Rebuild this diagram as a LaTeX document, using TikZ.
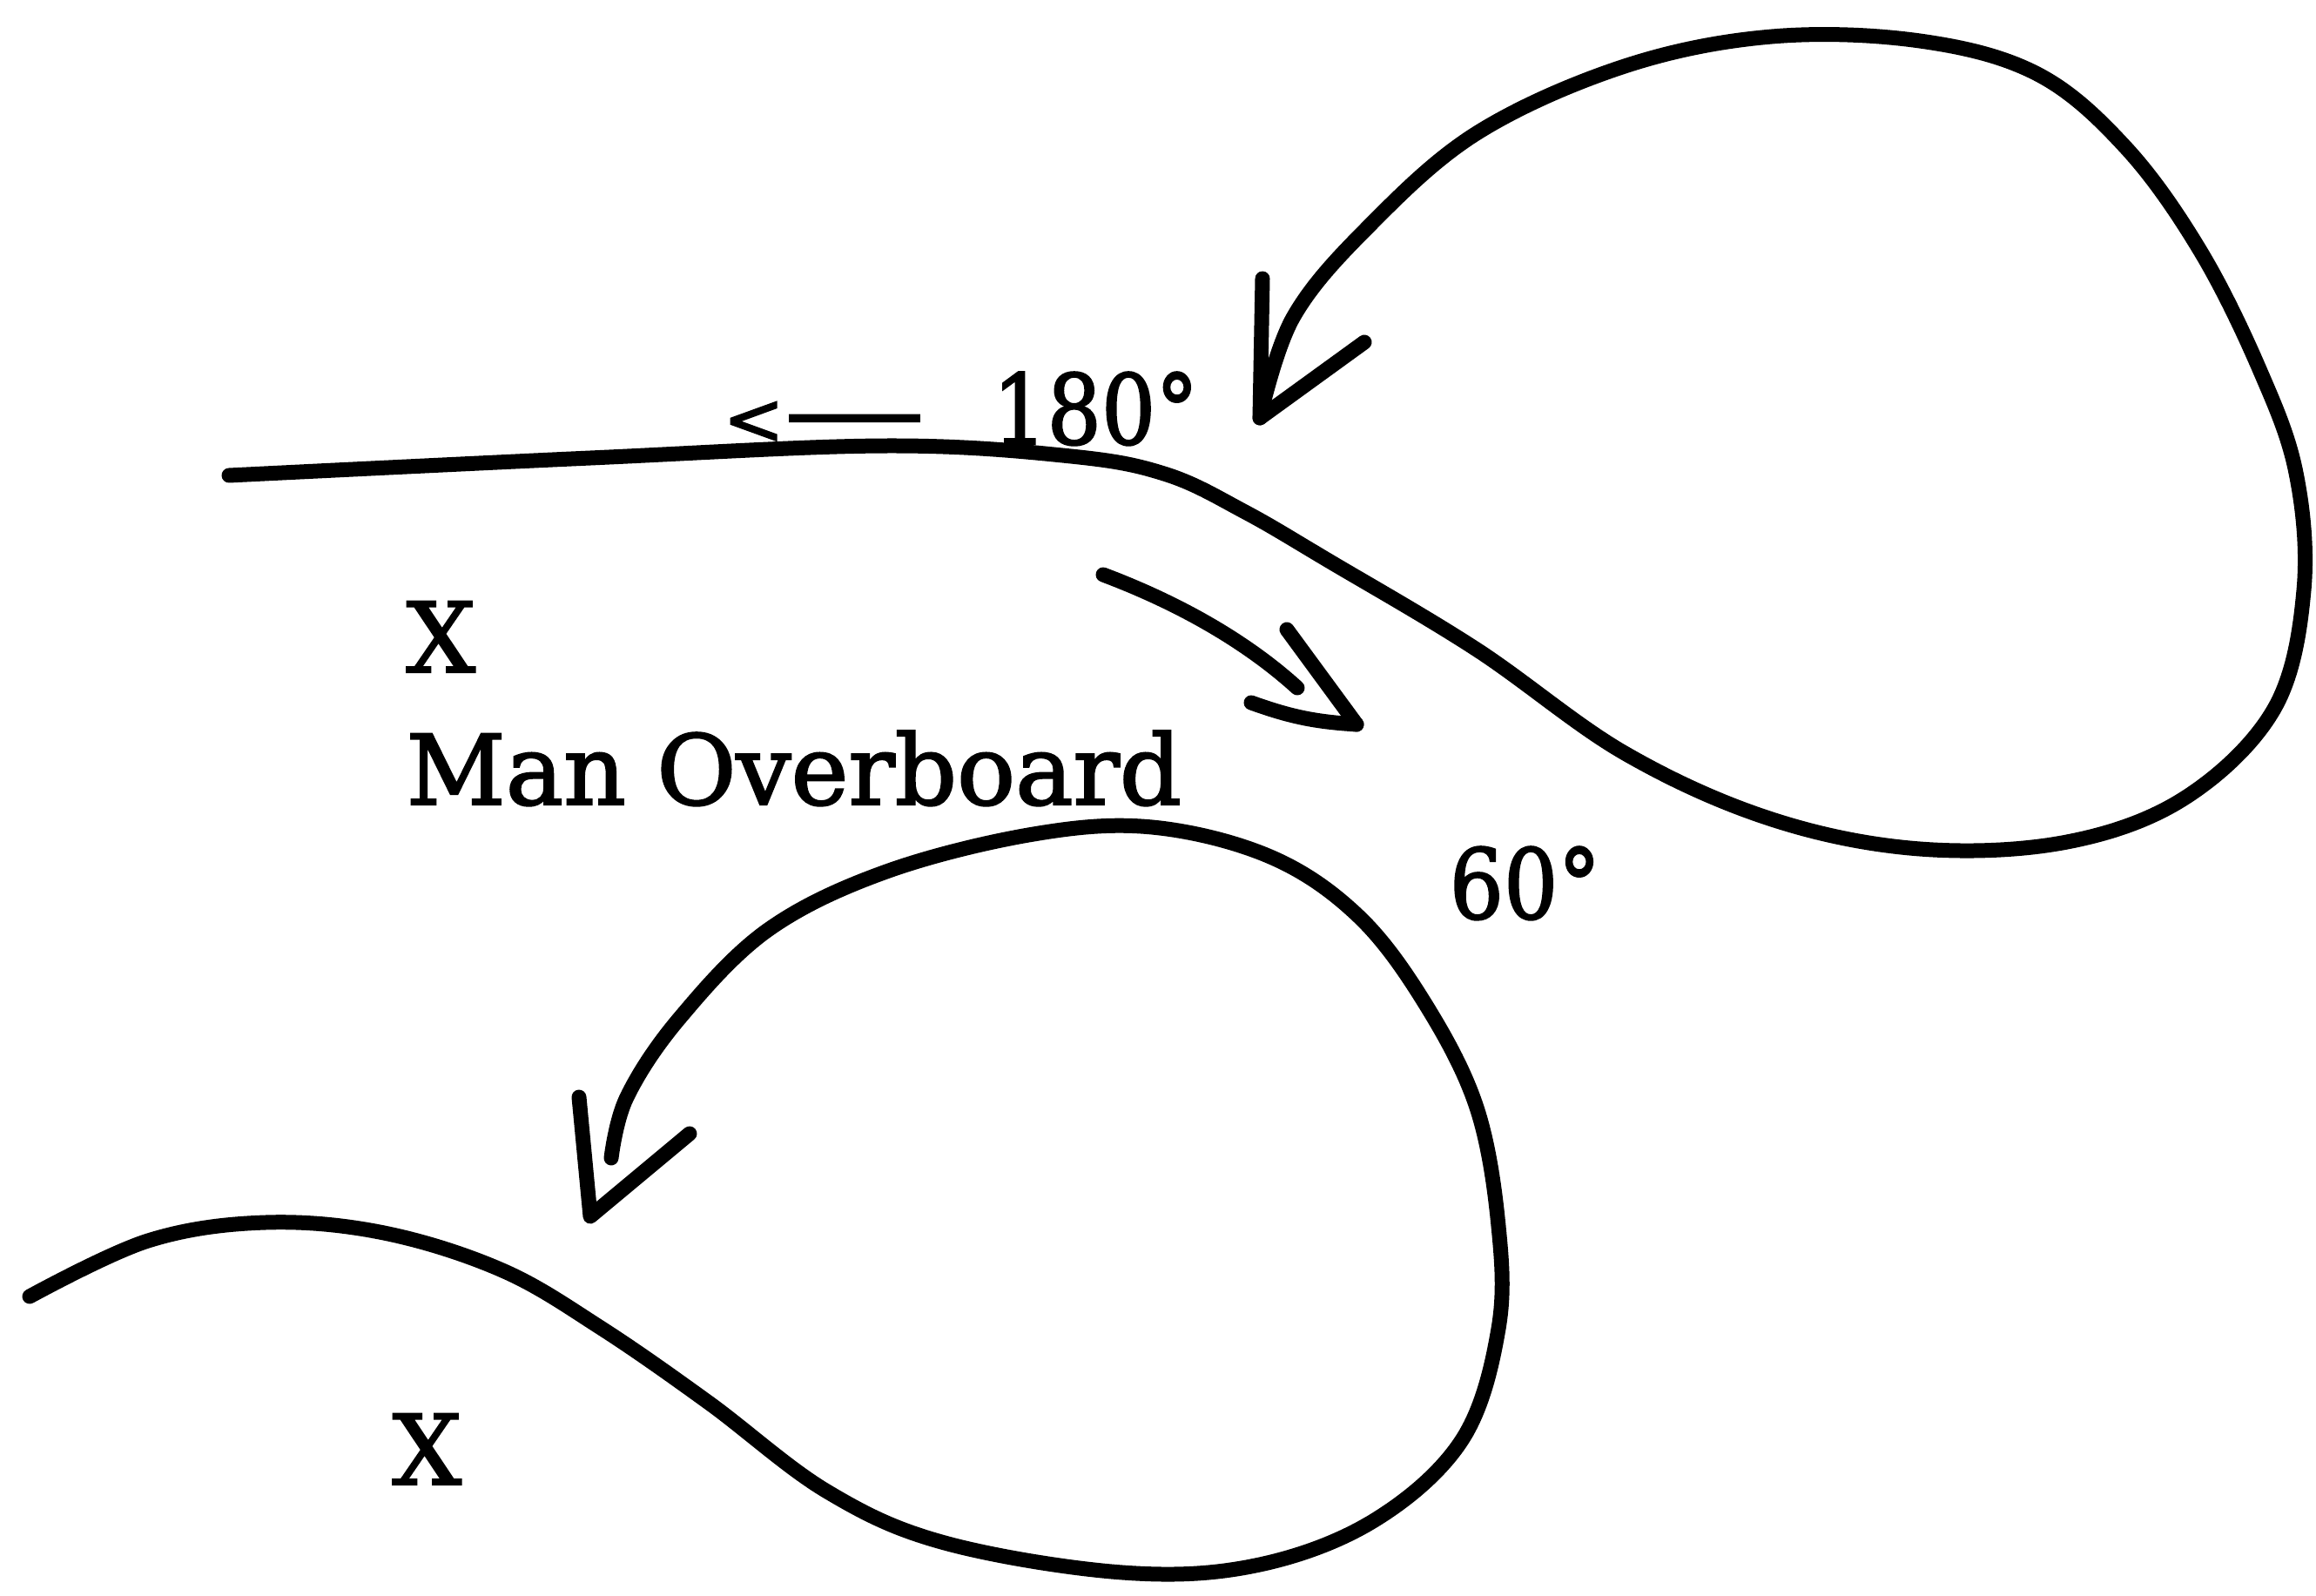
\documentclass[tikz,border=0pt]{standalone}
\usepackage{fontspec}
\setmainfont{DejaVu Serif}[FakeBold=2]
\tikzset{
  rumbo/.style={line width=1.7mm, line cap=round, line join=round},
  rotulo/.style={font=\fontsize{31.7}{38}\selectfont, inner sep=0pt, anchor=base west}
}
\newcommand{\grados}[1]{\scalebox{0.88}[1]{#1}}
\begin{document}
\begin{tikzpicture}
        \useasboundingbox (0,0) rectangle (26.6,-18.33);
        % Primera maniobra: giro de 180 grados
        \draw[rumbo] plot[smooth, tension=0.6] coordinates {(2.63,-5.46) (6.78,-5.26) (10.18,-5.12) (12.30,-5.24) (13.40,-5.45) (14.30,-5.88) (15.26,-6.44) (16.96,-7.46) (18.66,-8.65) (20.35,-9.41) (22.05,-9.75) (23.74,-9.67) (25.10,-9.16) (26.12,-8.14) (26.46,-6.78) (26.37,-5.43) (25.95,-4.24) (25.27,-2.88) (24.42,-1.70) (23.40,-0.85) (22.05,-0.47) (20.35,-0.42) (18.66,-0.76) (16.96,-1.53) (15.70,-2.62) (14.85,-3.65) (14.47,-4.80)};
        \coordinate (punta1) at (14.47,-4.80);
        \draw[rumbo] (14.50,-3.20) -- (punta1) -- (15.67,-3.93);
        % Flecha corta hacia el segundo giro
        \coordinate (cola2) at (12.67,-6.60);
        \coordinate (punta2) at (15.58,-8.32);
        \draw[rumbo] (cola2) .. controls (13.60,-6.95) and (14.35,-7.40) .. (14.90,-7.90);
        \draw[rumbo] (14.78,-7.23) -- (punta2);
        \draw[rumbo] (14.37,-8.07) to[bend right=8] (punta2);
        % Segunda maniobra: giro de 60 grados
        \draw[rumbo] plot[smooth, tension=0.6] coordinates {(0.34,-14.89) (1.70,-14.25) (3.05,-14.04) (4.41,-14.16) (5.77,-14.59) (6.90,-15.25) (8.14,-16.11) (9.50,-17.13) (10.85,-17.72) (12.89,-18.06) (14.42,-17.98) (15.77,-17.47) (16.79,-16.54) (17.21,-15.26) (17.21,-14.08) (16.96,-12.72) (16.37,-11.53) (15.60,-10.52) (14.59,-9.84) (13.23,-9.50) (11.87,-9.58) (10.18,-10.01) (8.82,-10.68) (7.80,-11.70) (7.20,-12.60) (7.02,-13.30)};
        \coordinate (punta3) at (6.78,-13.97);
        \draw[rumbo] (6.65,-12.60) -- (punta3) -- (7.92,-13.02);
        % Rotulos
        \node[rotulo] (rumbo180) at (8.30,-5.10) {\scalebox{0.75}{<}\scalebox{1.45}[1]{—}\hspace{0.7em}\grados{180°}};
        \node[rotulo] (marca1) at (4.66,-7.72) {X};
        \node[rotulo] (hombre) at (4.66,-9.24) {Man Overboard};
        \node[rotulo] (rumbo60) at (16.64,-10.55) {\grados{60°}};
        \node[rotulo] (marca2) at (4.50,-17.05) {X};
\end{tikzpicture}
\end{document}
